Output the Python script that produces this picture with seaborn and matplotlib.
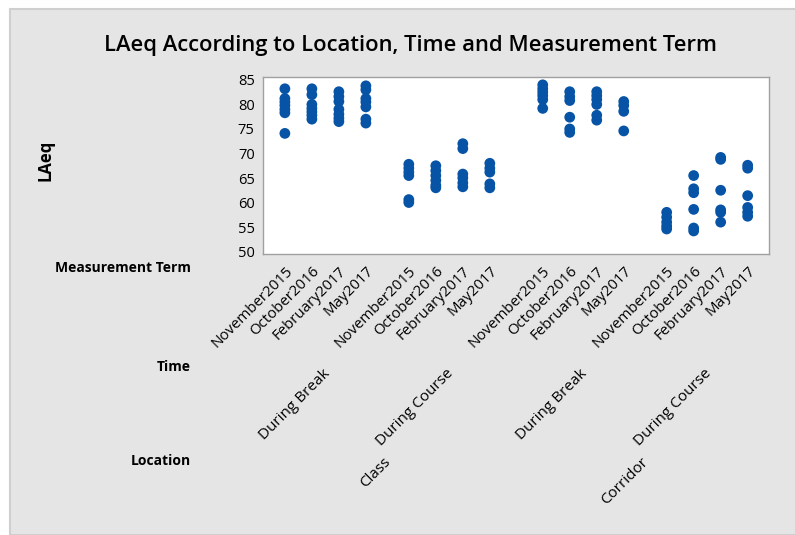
import pandas as pd
import matplotlib
matplotlib.use("Agg")
import matplotlib.pyplot as plt
import matplotlib.transforms as mtransforms
from matplotlib.patches import Rectangle
import seaborn as sns

# categories
locations = ["Class", "Corridor"]
times = ["During Break", "During Course"]
terms = ["November2015", "October2016", "February2017", "May2017"]

# LAeq readings per (location, time, term)
class_break = {
    "November2015": [83.2, 81.2, 80.5, 79.8, 79.0, 78.3, 74.1],
    "October2016": [83.2, 82.0, 80.0, 79.2, 78.5, 77.8, 77.0],
    "February2017": [82.6, 81.6, 80.6, 79.0, 78.0, 77.2, 76.5],
    "May2017": [83.8, 83.0, 81.2, 80.5, 79.5, 77.0, 76.2],
}
class_course = {
    "November2015": [67.8, 67.0, 66.2, 65.5, 60.6, 60.0],
    "October2016": [67.5, 66.5, 65.5, 64.5, 63.5, 63.0],
    "February2017": [72.0, 71.0, 65.8, 65.0, 64.0, 63.2],
    "May2017": [68.0, 67.0, 66.2, 63.8, 63.0],
}
corridor_break = {
    "November2015": [84.0, 83.2, 82.5, 81.8, 81.0, 79.2],
    "October2016": [82.6, 81.6, 80.8, 77.4, 75.0, 74.3],
    "February2017": [82.6, 81.8, 81.0, 80.0, 77.8, 76.8],
    "May2017": [80.6, 79.8, 78.6, 74.6],
}
corridor_course = {
    "November2015": [58.0, 57.0, 56.0, 55.2, 54.6],
    "October2016": [65.5, 62.8, 62.0, 58.6, 54.8, 54.2],
    "February2017": [69.2, 68.8, 62.5, 58.5, 58.0, 56.0],
    "May2017": [67.6, 67.0, 61.4, 59.0, 58.0, 57.2],
}
groups = {
    ("Class", "During Break"): class_break,
    ("Class", "During Course"): class_course,
    ("Corridor", "During Break"): corridor_break,
    ("Corridor", "During Course"): corridor_course,
}

# x layout: gap between time groups and a bit more between locations
TIME_GAP = 0.59
LOC_GAP = 0.37

rows = []
tick_pos, tick_lab = [], []
time_centers, loc_centers = [], []
for li, loc in enumerate(locations):
    loc_x = []
    for ti, tm in enumerate(times):
        g = li * len(times) + ti
        t_x = []
        for ki, term in enumerate(terms):
            idx = g * len(terms) + ki
            x = idx + g * TIME_GAP + li * LOC_GAP
            tick_pos.append(x)
            tick_lab.append(term)
            t_x.append(x)
            for v in groups[(loc, tm)][term]:
                rows.append({"Location": loc, "Time": tm, "Term": term,
                             "LAeq": v, "xpos": x})
        time_centers.append((tm, sum(t_x) / len(t_x)))
        loc_x += t_x
    loc_centers.append((loc, sum(loc_x) / len(loc_x)))

df = pd.DataFrame(rows)

sns.set_style("white")
plt.rcParams["font.family"] = ["Open Sans", "DejaVu Sans"]
plt.rcParams["text.color"] = "black"
plt.rcParams["xtick.color"] = "black"
plt.rcParams["ytick.color"] = "black"

fig = plt.figure(figsize=(7.95, 5.35), dpi=100, facecolor="white")
fig.patches.append(Rectangle((10 / 795, 0), 1, 1 - 9 / 535, transform=fig.transFigure,
                             facecolor="#e5e5e5", edgecolor="#cfcfcf", lw=1.5, zorder=-1))
ax = fig.add_axes([263 / 795, 1 - 254 / 535, 506 / 795, 177 / 535])
ax.set_facecolor("white")

sns.scatterplot(data=df, x="xpos", y="LAeq", ax=ax, color="#0753a6",
                s=60, edgecolor="none", legend=False)

ax.set_xlim(-0.81, 17.93)
ax.set_ylim(49.5, 85.6)
ax.set_yticks([50, 55, 60, 65, 70, 75, 80, 85])
ax.set_xticks(tick_pos)
ax.set_xticklabels(tick_lab, rotation=45, ha="right", rotation_mode="anchor")
ax.set_xlabel("")
ax.set_ylabel("")
ax.tick_params(axis="both", direction="out", length=4, width=0.8, color="#8c8c8c",
               labelsize=10.5, labelcolor="black", pad=2)
ax.tick_params(axis="x", pad=3, labelsize=10.8)
for sp in ax.spines.values():
    sp.set_color("#a0a0a0")
    sp.set_linewidth(1)

fig.text(410 / 795, 1 - 45 / 535, "LAeq According to Location, Time and Measurement Term",
         ha="center", va="center", fontsize=15.8, fontweight="semibold")
fig.text(45 / 795, 1 - 160 / 535, "LAeq", rotation=90, ha="center", va="center",
         fontsize=12, fontweight="bold")

fig.text(191 / 795, 1 - 268 / 535, "Measurement Term", ha="right", va="center",
         fontsize=10, fontweight="bold")
fig.text(191 / 795, 1 - 367 / 535, "Time", ha="right", va="center",
         fontsize=10, fontweight="bold")
fig.text(191 / 795, 1 - 461 / 535, "Location", ha="right", va="center",
         fontsize=10, fontweight="bold")

trans = mtransforms.blended_transform_factory(ax.transData, fig.transFigure)
for label, cx in time_centers:
    ax.text(cx - 0.12, 1 - 366 / 535, label, transform=trans, rotation=45,
            ha="right", va="top", rotation_mode="anchor", fontsize=11, clip_on=False)
for label, cx in loc_centers:
    ax.text(cx - 0.15, 1 - 455 / 535, label, transform=trans, rotation=45,
            ha="right", va="top", rotation_mode="anchor", fontsize=11, clip_on=False)

fig.savefig("out.png", dpi=100, facecolor=fig.get_facecolor())
